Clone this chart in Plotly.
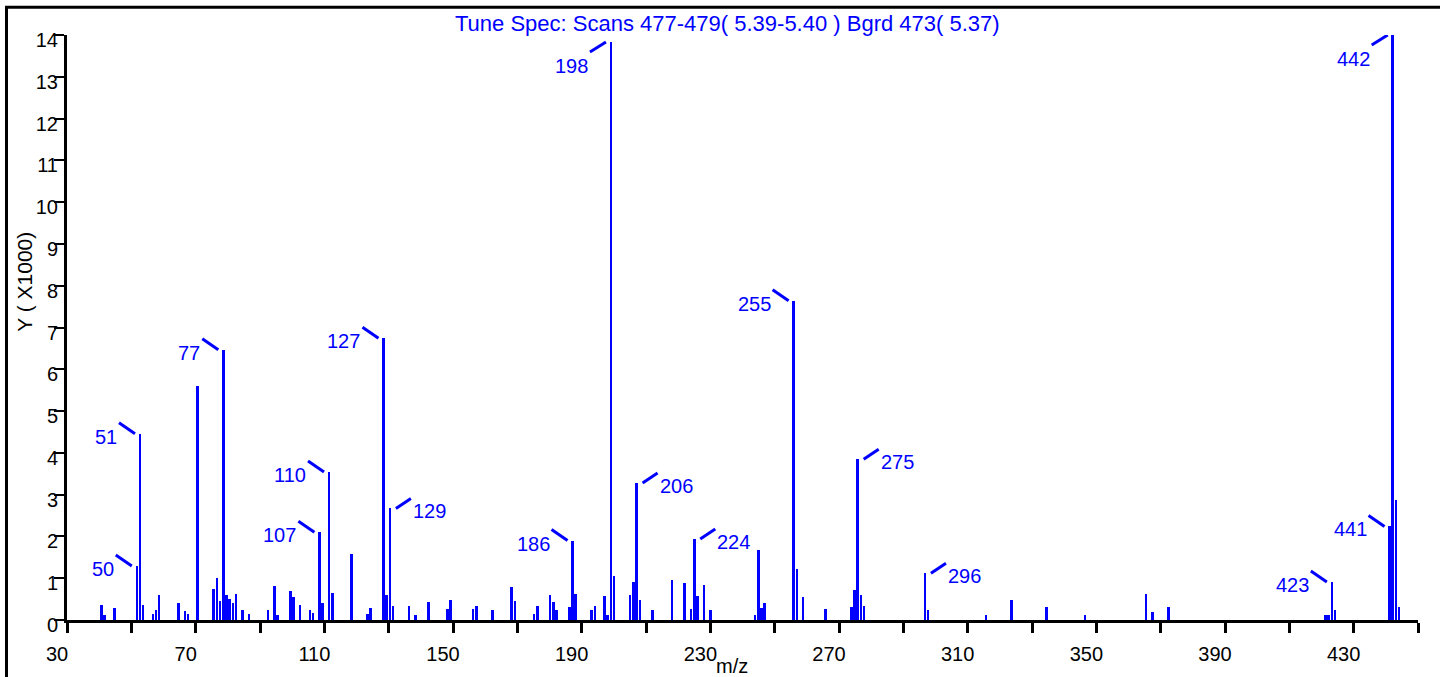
import numpy as np
import plotly.graph_objects as go

# m/z and abundance (in thousands)
mz = [39, 40, 43, 50, 51, 52, 55, 56, 57, 63, 65, 66, 69, 74, 75, 76, 77, 78, 79, 80,
      81, 83, 85, 91, 93, 94, 98, 99, 101, 104, 105, 107, 108, 110, 111, 117, 122, 123,
      127, 128, 129, 130, 135, 137, 141, 147, 148, 155, 156, 161, 167, 168, 174, 175,
      179, 180, 181, 185, 186, 187, 192, 193, 196, 197, 198, 199, 204, 205, 206, 207,
      211, 217, 221, 223, 224, 225, 227, 229, 243, 244, 245, 246, 255, 256, 258, 265,
      273, 274, 275, 276, 277, 296, 297, 315, 323, 334, 346, 365, 367, 372, 421, 422,
      423, 424, 441, 442, 443, 444]
abund = [0.37, 0.12, 0.28, 1.29, 4.46, 0.36, 0.15, 0.25, 0.61, 0.41, 0.22, 0.14, 5.61,
         0.75, 1.01, 0.45, 6.47, 0.59, 0.50, 0.41, 0.62, 0.24, 0.15, 0.24, 0.82, 0.12,
         0.70, 0.54, 0.37, 0.24, 0.17, 2.10, 0.41, 3.54, 0.65, 1.57, 0.15, 0.28, 6.74,
         0.61, 2.67, 0.34, 0.33, 0.13, 0.44, 0.26, 0.48, 0.26, 0.34, 0.24, 0.80, 0.45,
         0.14, 0.34, 0.60, 0.44, 0.24, 0.31, 1.90, 0.63, 0.23, 0.34, 0.57, 0.13, 13.83,
         1.05, 0.59, 0.91, 3.28, 0.47, 0.24, 0.95, 0.88, 0.26, 1.94, 0.57, 0.83, 0.24,
         0.12, 1.67, 0.28, 0.41, 7.64, 1.21, 0.56, 0.26, 0.31, 0.73, 3.85, 0.59, 0.34,
         1.12, 0.24, 0.13, 0.49, 0.30, 0.12, 0.62, 0.20, 0.30, 0.13, 0.13, 0.91, 0.24,
         2.24, 14.0, 2.88, 0.31]

# labelled peaks and where their label sits
label_left = [50, 51, 77, 107, 110, 127, 186, 255, 423, 441]   # text left, "\" leader
label_left_low = [198, 442]                                      # text left-below, "/" leader
label_right = [129, 206, 224, 275, 296]                          # text right, "/" leader

x_range = [28.22, 449.89]
x_tick_text = ["30", "", "70", "", "110", "", "150", "", "190", "", "230", "",
               "270", "", "310", "", "350", "", "390", "", "430", ""]
y_ticks = list(range(0, 15))

title_text = "Tune Spec: Scans 477-479( 5.39-5.40 ) Bgrd 473( 5.37)"
BLUE = "#0000ff"
FONT = "Liberation Sans, Arial, sans-serif"

W, H = 1440, 677
L, R, T, B = 67, 22, 35, 54
PW, PH = W - L - R, H - T - B


def pxx(px):
    return (px - L) / PW


def pxy(py):
    return (H - B - py) / PH


peak = dict(zip(mz, abund))

fig = go.Figure()
fig.add_trace(go.Bar(x=mz, y=abund, width=0.8, marker=dict(color=BLUE, line_width=0),
                     showlegend=False))

shapes = []
annotations = []


def leader(m, dx0, dy0, dx1, dy1):
    shapes.append(dict(type="line", xref="x", yref="y", xsizemode="pixel", ysizemode="pixel",
                       xanchor=m, yanchor=peak[m], x0=dx0, y0=dy0, x1=dx1, y1=dy1,
                       line=dict(color=BLUE, width=3)))


for m in label_left:
    leader(m, -21, 11, -5, 0)
    annotations.append(dict(x=m, y=peak[m], xref="x", yref="y", text=str(m), showarrow=False,
                            xanchor="right", yanchor="middle", xshift=-21, yshift=-3,
                            font=dict(color=BLUE, size=20, family=FONT)))
for m in label_left_low:
    leader(m, -21, -10, -5, 0)
    annotations.append(dict(x=m, y=peak[m], xref="x", yref="y", text=str(m), showarrow=False,
                            xanchor="right", yanchor="middle", xshift=-21, yshift=-24,
                            font=dict(color=BLUE, size=20, family=FONT)))
for m in label_right:
    leader(m, 6, 0, 21, 10)
    annotations.append(dict(x=m, y=peak[m], xref="x", yref="y", text=str(m), showarrow=False,
                            xanchor="left", yanchor="middle", xshift=21, yshift=-3,
                            font=dict(color=BLUE, size=20, family=FONT)))

# frame around the picture (left and top edges)
shapes.append(dict(type="line", xref="paper", yref="paper", x0=pxx(6.5), x1=pxx(6.5),
                   y0=pxy(7), y1=pxy(700), line=dict(color="black", width=3)))
shapes.append(dict(type="line", xref="paper", yref="paper", x0=pxx(5), x1=pxx(1460),
                   y0=pxy(7), y1=pxy(7), line=dict(color="black", width=3)))

annotations.append(dict(x=pxx(727), y=pxy(23), xref="paper", yref="paper", text=title_text,
                        showarrow=False, xanchor="center", yanchor="middle",
                        font=dict(color=BLUE, size=22, family=FONT)))
annotations.append(dict(x=pxx(25), y=pxy(283), xref="paper", yref="paper", text="Y ( X1000)",
                        showarrow=False, textangle=-90, xanchor="center", yanchor="middle",
                        font=dict(color="black", size=21, family=FONT)))
annotations.append(dict(x=pxx(732), y=pxy(682), xref="paper", yref="paper", text="m/z",
                        showarrow=False, xanchor="center", yanchor="bottom",
                        font=dict(color="black", size=20, family=FONT)))

fig.update_layout(
    width=W, height=H,
    margin=dict(l=L, r=R, t=T, b=B),
    paper_bgcolor="white", plot_bgcolor="white",
    bargap=0,
    shapes=shapes,
    annotations=annotations,
    xaxis=dict(range=x_range, tickvals=np.linspace(x_range[0], x_range[1], 22),
               ticktext=x_tick_text, showgrid=False, zeroline=False,
               showline=True, linecolor="black", linewidth=3,
               ticks="outside", ticklen=10, tickwidth=3, tickcolor="black",
               ticklabelshift=-10, ticklabelstandoff=4,
               tickfont=dict(color="black", size=20, family=FONT)),
    yaxis=dict(range=[0, 14], tickvals=y_ticks, showgrid=False, zeroline=False,
               showline=True, linecolor="black", linewidth=3,
               ticks="outside", ticklen=10, tickwidth=2, tickcolor="black",
               ticklabelshift=5, ticklabelstandoff=-8,
               tickfont=dict(color="black", size=20, family=FONT)),
)

fig.write_html("out.html", config={"displayModeBar": False},
               post_script="document.body.style.margin='0';")
